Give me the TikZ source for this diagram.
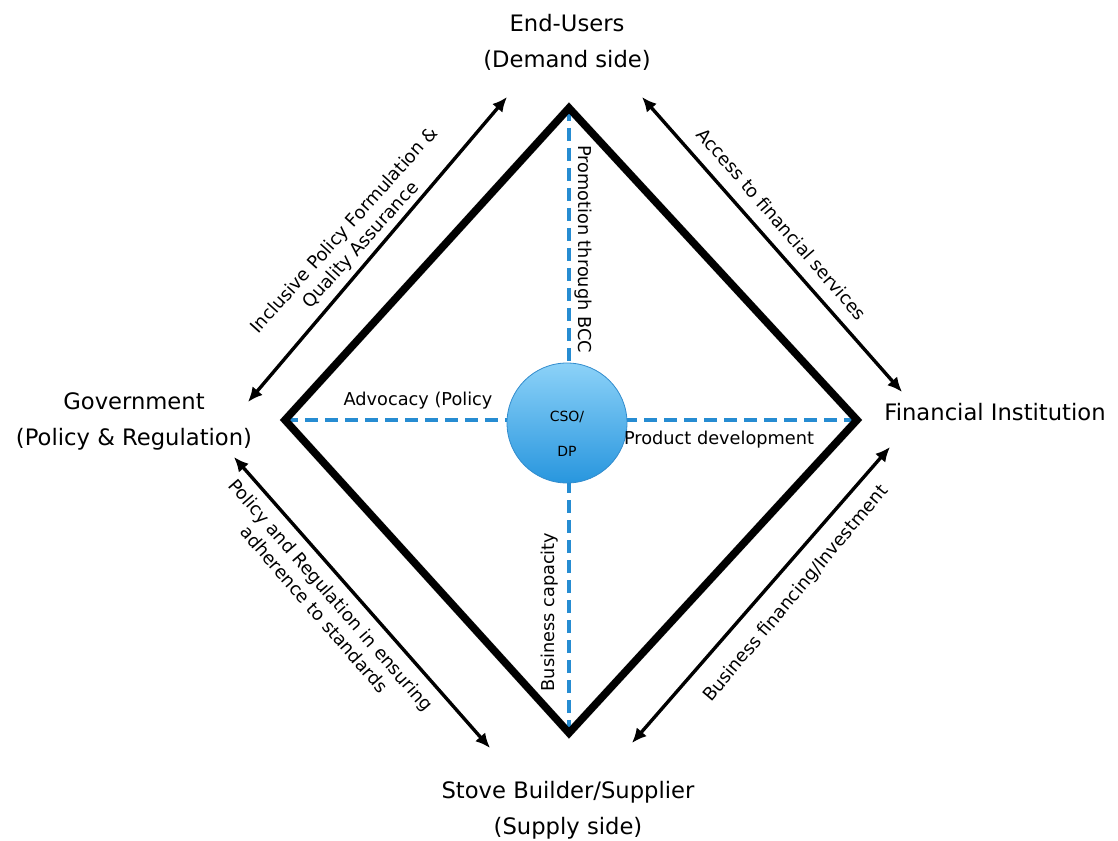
\documentclass[tikz,border=0pt]{standalone}
\usepackage{fontspec}
\setmainfont{DejaVu Sans}
\usetikzlibrary{arrows.meta}
\definecolor{dashblue}{RGB}{38,140,210}
\definecolor{ctop}{RGB}{140,210,248}
\definecolor{cbot}{RGB}{40,150,222}
\definecolor{cedge}{RGB}{50,140,205}
\begin{document}
\begin{tikzpicture}[x=0.75pt,y=-0.75pt,
  edge/.style={line width=5.6pt, line join=miter},
  edgeshadow/.style={line width=6pt, line join=miter, draw=black!22},
  rel/.style={line width=2.5pt, {Latex[length=11pt,width=10pt]}-{Latex[length=11pt,width=10pt]}},
  relshadow/.style={line width=2.5pt, draw=black!18, shorten <=9pt, shorten >=9pt},
  blueline/.style={draw=dashblue, line width=2.4pt, dash pattern=on 10pt off 5pt},
  big/.style={font=\fontsize{17}{27}\selectfont, align=center},
  lab/.style={font=\fontsize{13.5}{16.5}\selectfont, align=center},
  inner/.style={font=\fontsize{13.3}{15}\selectfont},
  csotext/.style={font=\fontsize{10.5}{12}\selectfont, inner sep=0pt},
]
\useasboundingbox (0,0) rectangle (1118,841);

% diamond vertices
\coordinate (T) at (569,108);
\coordinate (L) at (285,420);
\coordinate (R) at (857,420);
\coordinate (B) at (569,733);

% outer labels
\node[big] (users) at (567,42) {End-Users\\(Demand side)};
\node[big] (gov) at (134,421) {Government\\(Policy \& Regulation)};
\node[big] (fin) at (995,412) {Financial Institution};
\node[big] (stove) at (568,810) {Stove Builder/Supplier\\(Supply side)};

% arrow end points
\coordinate (a1) at (248,402); \coordinate (a2) at (507,97);
\coordinate (b1) at (642,97);  \coordinate (b2) at (902,392);
\coordinate (c1) at (234,457); \coordinate (c2) at (490,748);
\coordinate (d1) at (632,743); \coordinate (d2) at (890,447);

% shadows
\begin{scope}[shift={(2.5,3)}]
  \draw[edgeshadow] (T) -- (R) -- (B) -- (L) -- cycle;
  \draw[relshadow] (a1) -- (a2);
  \draw[relshadow] (b1) -- (b2);
  \draw[relshadow] (c1) -- (c2);
  \draw[relshadow] (d1) -- (d2);
\end{scope}

% central node
\node[circle, minimum size=90pt, inner sep=0pt, draw=cedge, line width=0.6pt,
      top color=ctop, bottom color=cbot] (cso) at (567,423) {};
\node[csotext] (csoA) at (567,417) {CSO/};
\node[csotext] (csoB) at (567,451) {DP};

% dashed links
\draw[blueline] (L) -- (L -| cso.west);
\draw[blueline] (R) -- (R -| cso.east);
\draw[blueline] (T) -- (T |- cso.north);
\draw[blueline] (B) -- (B |- cso.south);

% diamond
\draw[edge] (T) -- (R) -- (B) -- (L) -- cycle;

% relation arrows
\draw[rel] (a1) -- (a2);
\draw[rel] (b1) -- (b2);
\draw[rel] (c1) -- (c2);
\draw[rel] (d1) -- (d2);

% arrow labels
\node[lab, rotate=48] (l1) at (353,238) {Inclusive Policy Formulation \&\\Quality Assurance};
\node[lab, rotate=-49] (l2) at (782,224) {Access to financial services};
\node[lab, rotate=-49] (l3) at (323,602) {Policy and Regulation in ensuring\\adherence to standards};
\node[lab, rotate=50] (l4) at (796,594) {Business financing/Investment};

% inner labels
\node[inner, rotate=-90] (i1) at (583,249) {Promotion through BCC};
\node[inner, rotate=90] (i2) at (550,612) {Business capacity};
\node[inner] (i3) at (418,401) {Advocacy (Policy};
\node[inner] (i4) at (719,440) {Product development};
\end{tikzpicture}
\end{document}
